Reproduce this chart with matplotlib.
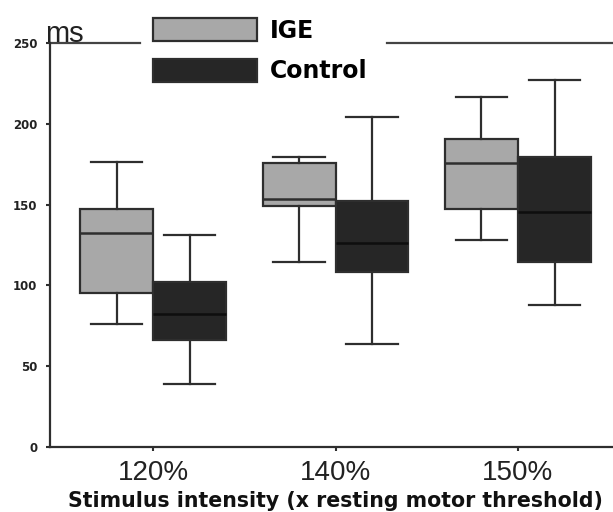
import matplotlib
matplotlib.use("Agg")
import matplotlib.pyplot as plt
from matplotlib.patches import Patch

# stimulus intensities and group names
categories = ["120%", "140%", "150%"]
groups = ["IGE", "Control"]

# box summaries (ms): low whisker, Q1, median, Q3, high whisker
ige_lo = [76, 114.5, 128]
ige_q1 = [95, 149, 147]
ige_med = [132.5, 153.5, 176]
ige_q3 = [147, 176, 190.7]
ige_hi = [176.5, 179.6, 216.7]

ctl_lo = [39, 64, 88]
ctl_q1 = [66, 108, 114.5]
ctl_med = [82, 126, 145.5]
ctl_q3 = [102, 152, 179.6]
ctl_hi = [131, 204, 227]

yticks = [0, 50, 100, 150, 200, 250]

ige_color = "#a8a8a8"
ctl_color = "#262626"
edge = "#2e2e2e"


def make_stats(lo, q1, med, q3, hi):
    return [dict(whislo=a, q1=b, med=c, q3=d, whishi=e, fliers=[])
            for a, b, c, d, e in zip(lo, q1, med, q3, hi)]


W, H = 613, 512
fig = plt.figure(figsize=(W / 100, H / 100), dpi=100)
fig.patch.set_facecolor("white")

# axes placed in pixel terms; right side runs off the picture like the source
x0, y_bot, y_top = 50, 447, 43
step = 182.5
xl, xr = -(153 - x0) / step, 2.6
ax_w = (xr - xl) * step
ax = fig.add_axes([x0 / W, (H - y_bot) / H, ax_w / W, (y_bot - y_top) / H])

pos = list(range(len(categories)))
bw = 0.4
props = dict(
    widths=bw, capwidths=0.28, patch_artist=True, showfliers=False,
    boxprops=dict(edgecolor=edge, linewidth=1.6),
    whiskerprops=dict(color=edge, linewidth=1.6),
    capprops=dict(color=edge, linewidth=1.6),
)
b1 = ax.bxp(make_stats(ige_lo, ige_q1, ige_med, ige_q3, ige_hi),
            positions=[p - bw / 2 for p in pos],
            medianprops=dict(color=edge, linewidth=1.8), **props)
b2 = ax.bxp(make_stats(ctl_lo, ctl_q1, ctl_med, ctl_q3, ctl_hi),
            positions=[p + bw / 2 for p in pos],
            medianprops=dict(color="#0e0e0e", linewidth=1.8), **props)
for b in b1["boxes"]:
    b.set_facecolor(ige_color)
for b in b2["boxes"]:
    b.set_facecolor(ctl_color)

ax.set_xlim(xl, xr)
ax.set_ylim(0, 250)
ax.set_xticks(pos)
ax.set_xticklabels(categories, fontsize=20, family="Liberation Sans", color="#222222")
ax.set_yticks(yticks)
ax.set_yticklabels([str(v) for v in yticks], fontsize=8.5, fontweight="bold",
                   color="#222222")
ax.tick_params(axis="x", length=3, width=1.5, pad=6, color=edge)
ax.tick_params(axis="y", length=3, width=1.5, pad=6, color=edge)

for s in ["left", "bottom"]:
    ax.spines[s].set_linewidth(1.6)
    ax.spines[s].set_color(edge)
ax.spines["right"].set_visible(False)
ax.spines["top"].set_visible(False)

# top frame line, broken where the legend sits
ax.axhline(250, xmin=0, xmax=(140 - x0) / ax_w, color="#444444", lw=1.6, clip_on=False)
ax.axhline(250, xmin=(387 - x0) / ax_w, xmax=1, color="#444444", lw=1.6, clip_on=False)

ax.text((45 - x0) / ax_w, (y_bot - 42) / (y_bot - y_top), "ms", transform=ax.transAxes,
        fontsize=21, family="Liberation Sans", va="baseline", ha="left", color="#222222")

ax.set_xlabel("Stimulus intensity (x resting motor threshold)", loc="left",
              fontsize=14.8, fontweight="bold", color="#111111")
ax.xaxis.label.set_va("baseline")
ax.xaxis.set_label_coords((68 - x0) / ax_w, -(507 - y_bot) / (y_bot - y_top))

handles = [Patch(facecolor=ige_color, edgecolor=edge, linewidth=1.6),
           Patch(facecolor=ctl_color, edgecolor=edge, linewidth=1.6)]
fig.legend(handles, groups, loc="upper left", bbox_to_anchor=(153 / W, 1 - 18 / H),
           frameon=False, prop=dict(size=17, weight="bold"), handlelength=4.4,
           handleheight=1.12, labelspacing=0.68, handletextpad=0.55, borderpad=0,
           borderaxespad=0)

fig.savefig("out.png", dpi=100)
